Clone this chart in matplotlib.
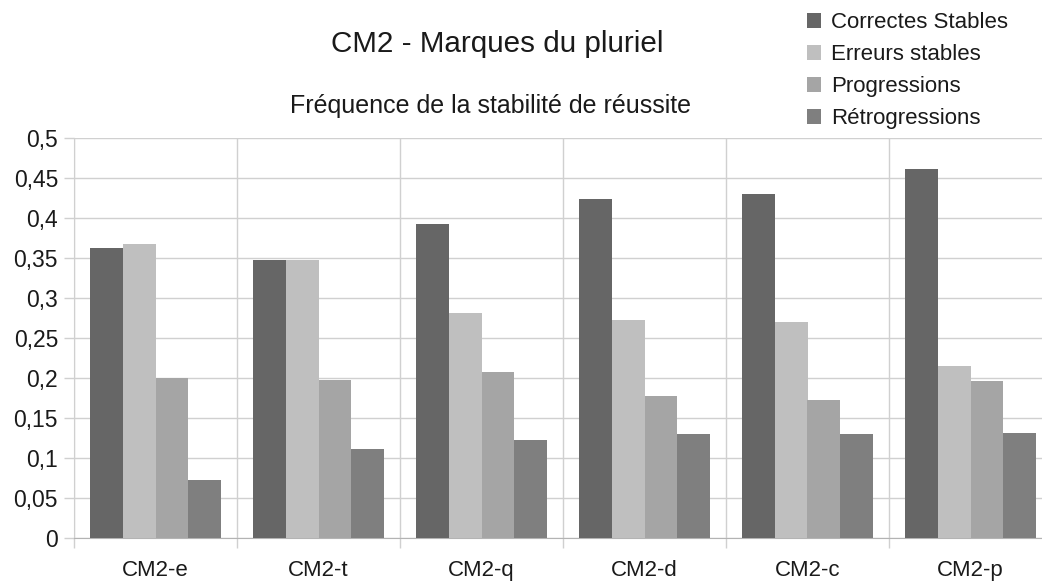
import matplotlib
matplotlib.use("Agg")
import matplotlib.pyplot as plt
import numpy as np

categories = ["CM2-e", "CM2-t", "CM2-q", "CM2-d", "CM2-c", "CM2-p"]
series_names = ["Correctes Stables", "Erreurs stables", "Progressions", "Rétrogressions"]
correctes = [0.362, 0.347, 0.392, 0.424, 0.430, 0.461]
erreurs = [0.368, 0.347, 0.281, 0.272, 0.270, 0.215]
progressions = [0.200, 0.198, 0.208, 0.177, 0.172, 0.196]
retrogressions = [0.073, 0.111, 0.122, 0.130, 0.130, 0.131]
yticks = [0, 0.05, 0.1, 0.15, 0.2, 0.25, 0.3, 0.35, 0.4, 0.45, 0.5]
ytick_labels = ["0", "0,05", "0,1", "0,15", "0,2", "0,25", "0,3", "0,35", "0,4", "0,45", "0,5"]
colors = ["#666666", "#bfbfbf", "#a5a5a5", "#7f7f7f"]

plt.rcParams['font.family'] = ['Liberation Sans', 'DejaVu Sans']

fig = plt.figure(figsize=(10.42, 5.83), dpi=100)
ax = fig.add_axes([74/1042, 1-538/583, 978/1042, 400/583])

x = np.arange(len(categories))
w = 0.2
data = [correctes, erreurs, progressions, retrogressions]
for i, (vals, name, c) in enumerate(zip(data, series_names, colors)):
    ax.bar(x + (i - 1.5) * w, vals, width=w, color=c, label=name, zorder=3)

ax.set_xlim(-0.5, len(categories) - 0.5)
ax.set_ylim(0, 0.5)
ax.set_yticks(yticks)
ax.set_yticklabels(ytick_labels)
ax.set_xticks(x)
ax.set_xticklabels(categories)
ax.set_xticks(np.arange(len(categories) + 1) - 0.5, minor=True)

gc = "#d0d0d0"
ax.grid(axis='y', which='major', color=gc, linewidth=1, zorder=0)
ax.grid(axis='x', which='minor', color=gc, linewidth=1, zorder=0)
ax.tick_params(axis='x', which='major', length=0, labelsize=16, pad=16, colors="#1a1a1a")
ax.tick_params(axis='x', which='minor', length=7.5, width=1, color=gc, direction='out')
ax.tick_params(axis='y', which='major', length=7.5, width=1, color=gc, labelsize=16.5, pad=4, labelcolor="#1a1a1a")
for s in ['top', 'right']:
    ax.spines[s].set_visible(False)
ax.spines['left'].set_color(gc)
ax.spines['bottom'].set_color("#b3b3b3")

fig.text(497/1042, 1-44/583, "CM2 - Marques du pluriel", ha='center', va='center', fontsize=21.3, color="#1a1a1a")
fig.text(491/1042, 1-106/583, "Fréquence de la stabilité de réussite", ha='center', va='center', fontsize=18, color="#1a1a1a")

leg = fig.legend(loc='upper left', bbox_to_anchor=(798/1042, 1-3/583), frameon=False,
                 fontsize=16, handlelength=0.65, handleheight=0.65, handletextpad=0.45,
                 labelspacing=0.5, borderaxespad=0)
for t in leg.get_texts():
    t.set_color("#1a1a1a")

fig.savefig("out.png", dpi=100)
